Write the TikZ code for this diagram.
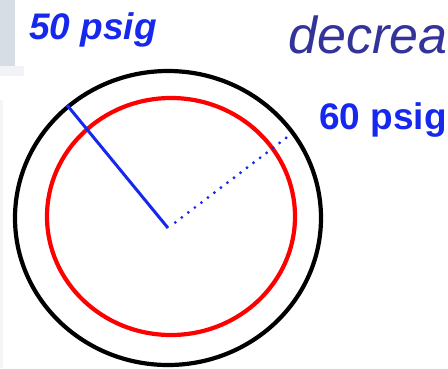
\documentclass[tikz,border=0pt]{standalone}
\usepackage{fontspec}
\setmainfont{Liberation Sans}
\usepackage{xcolor}
\usetikzlibrary{positioning,calc}

\definecolor{psiblue}{RGB}{22,40,238}
\definecolor{slideblue}{RGB}{51,51,153}
\definecolor{slidegray}{RGB}{214,221,229}

\tikzset{
  psilabel/.style={text=psiblue, font=\fontsize{37}{40}\selectfont\bfseries, inner sep=0pt},
  ring/.style={line width=4.2pt},
}

\begin{document}
\begin{tikzpicture}[x=1pt, y=-1pt]
  \useasboundingbox (0,0) rectangle (448,368);

  % Slide background pieces
  \fill[slidegray] (0,0) rectangle (15,66);
  \fill[slidegray!35] (0,66) rectangle (24,76);
  \fill[gray!8] (0,100) rectangle (3,368);

  % Title fragment
  \node[anchor=base west, inner sep=0pt, text=slideblue,
        font=\fontsize{52}{54}\selectfont\itshape] (title) at (288,53) {decrea};

  % Pipe walls
  \draw[ring] (168,218) ellipse [x radius=153, y radius=147];
  \draw[ring, red] (171,216.5) ellipse [x radius=124, y radius=118.5];

  % Radii
  \coordinate (ctr) at (168,228);
  \coordinate (rim50) at (67,105);
  \coordinate (rim60) at (290,135);
  \draw[psiblue, line width=3pt] (ctr) -- (rim50);
  \draw[psiblue, line width=3.2pt, line cap=round, dash pattern=on 0pt off 8.2pt]
    ($(ctr)!0.06!(rim60)$) -- (rim60);

  % Pressure labels
  \node[psilabel, anchor=base west, font=\fontsize{37}{40}\selectfont\bfseries\itshape] (p50) at (29,39) {50 psig};
  \node[psilabel, anchor=base west] (p60) at (319,129) {60 psig};
\end{tikzpicture}
\end{document}
